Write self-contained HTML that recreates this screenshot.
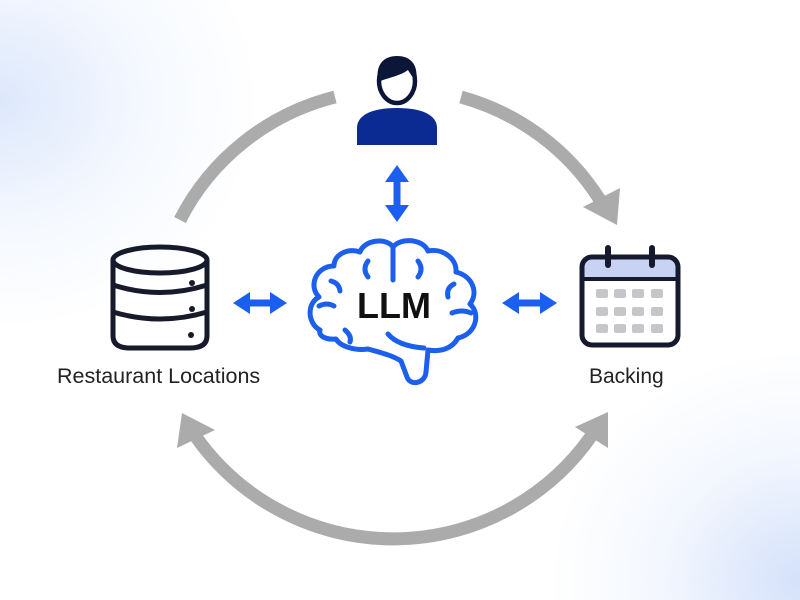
<!DOCTYPE html>
<html>
<head>
<meta charset="utf-8">
<style>
  html, body { margin:0; padding:0; }
  body {
    width:800px; height:600px; overflow:hidden; position:relative;
    background:#ffffff;
  }
  .bg {
    position:absolute; left:0; top:0; width:800px; height:600px;
    background:
      radial-gradient(ellipse 260px 230px at 0px 100px, rgba(215,228,251,0.85), rgba(232,240,253,0.45) 55%, rgba(255,255,255,0) 100%),
      radial-gradient(ellipse 250px 230px at 800px 580px, rgba(208,222,250,0.9), rgba(228,237,252,0.45) 55%, rgba(255,255,255,0) 100%),
      #ffffff;
  }
  svg { position:absolute; left:0; top:0; }
  .lbl {
    position:absolute; font-family:"Liberation Sans", sans-serif;
    font-size:20px; color:#222; white-space:nowrap; line-height:1;
  }
</style>
</head>
<body>
<div class="bg"></div>
<svg width="800" height="600" viewBox="0 0 800 600" xmlns="http://www.w3.org/2000/svg">
  <!-- gray cycle arcs -->
  <g fill="none" stroke="#ababab" stroke-width="13">
    <path d="M 180 220 A 240 236 0 0 1 335 97"/>
    <path d="M 461 97 A 240 236 0 0 1 600 200"/>
    <path d="M 196 437 A 242 242 0 0 0 592 435"/>
  </g>
  <g fill="#ababab">
    <polygon points="583,207 620,188 617,225"/>
    <polygon points="182,413 177,448 215,430"/>
    <polygon points="608,412 575,427 608,448"/>
  </g>

  <!-- person -->
  <path d="M 357 145 L 357 128 C 357 115, 372 108, 397 108 C 422 108, 437 115, 437 128 L 437 145 Z" fill="#0b2a92"/>
  <ellipse cx="397" cy="81" rx="18" ry="22" fill="#ffffff" stroke="#0c1638" stroke-width="4.5"/>
  <path d="M 378 82 C 375 62, 386 56, 397 56 C 410 56, 419 64, 416 82 C 412 76, 409 72, 408 70 C 400 76, 390 77, 378 82 Z" fill="#0c1638"/>

  <!-- vertical blue arrow -->
  <g fill="#1a5ff0">
    <rect x="393.5" y="178" width="7" height="32"/>
    <polygon points="397,165 385,182 409,182"/>
    <polygon points="397,222 385,205 409,205"/>
  </g>

  <!-- horizontal arrows -->
  <g fill="#1a5ff0">
    <rect x="246" y="299.5" width="28" height="7"/>
    <polygon points="233,303 250,292 250,314"/>
    <polygon points="287,303 270,292 270,314"/>
    <rect x="515" y="299.5" width="28" height="7"/>
    <polygon points="502,303 519,292 519,314"/>
    <polygon points="557,303 540,292 540,314"/>
  </g>

  <!-- brain -->
  <g fill="none" stroke="#1c5fec" stroke-width="5" stroke-linecap="round" stroke-linejoin="round">
    <path d="M 320 330
             C 308 324, 306 304, 319 297
             C 308 286, 316 266, 334 266
             C 334 254, 348 248, 360 252
             C 364 240, 386 237, 393 247
             C 401 237, 423 239, 428 251
             C 442 248, 457 258, 456 272
             C 472 276, 479 292, 470 304
             C 481 314, 476 334, 458 338
             C 452 349, 440 352, 428 350
             L 426 372
             C 425 384, 410 386, 407 377
             L 401 361
             C 392 355, 378 352, 368 349
             C 354 351, 340 346, 336 339
             C 326 340, 318 336, 320 330 Z"/>
    <path d="M 393 247 L 393 280"/>
    <path d="M 368 261 Q 362 269 368 277"/>
    <path d="M 418 261 Q 424 269 418 277"/>
    <path d="M 331 281 Q 339 283 340 291"/>
    <path d="M 319 306 Q 327 302 334 306"/>
    <path d="M 454 284 Q 446 288 448 297"/>
    <path d="M 452 313 Q 462 309 471 313"/>
    <path d="M 388 334 Q 398 346 424 348"/>
    <path d="M 345 330 Q 352 336 350 342"/>
  </g>
  <text x="394" y="318" text-anchor="middle" font-family="Liberation Sans, sans-serif" font-weight="bold" font-size="36" fill="#111">LLM</text>

  <!-- database -->
  <g fill="none" stroke="#161a2a" stroke-width="5">
    <ellipse cx="160" cy="260" rx="47" ry="13"/>
    <path d="M 113 260 L 113 336 Q 113 348 130 348 L 190 348 Q 207 348 207 336 L 207 260"/>
    <path d="M 113 285 Q 160 300 207 285"/>
    <path d="M 113 312 Q 160 326 207 312"/>
  </g>
  <g fill="#161a2a">
    <circle cx="192" cy="283" r="3"/>
    <circle cx="192" cy="309" r="3"/>
    <circle cx="191" cy="335" r="3"/>
  </g>

  <!-- calendar -->
  <path d="M 592 257 L 668 257 Q 678 257 678 267 L 678 279 L 582 279 L 582 267 Q 582 257 592 257 Z" fill="#c8d2f2"/>
  <rect x="582" y="257" width="96" height="88" rx="10" ry="10" fill="none" stroke="#161a2e" stroke-width="5"/>
  <line x1="582" y1="279" x2="678" y2="279" stroke="#161a2e" stroke-width="4"/>
  <g stroke="#161a2e" stroke-width="6" stroke-linecap="round">
    <line x1="608" y1="248" x2="608" y2="265"/>
    <line x1="652" y1="248" x2="652" y2="265"/>
  </g>
  <g fill="#c6c6ca">
    <rect x="596" y="289" width="12" height="9" rx="2"/>
    <rect x="614" y="289" width="12" height="9" rx="2"/>
    <rect x="632" y="289" width="12" height="9" rx="2"/>
    <rect x="651" y="289" width="12" height="9" rx="2"/>
    <rect x="596" y="307" width="12" height="9" rx="2"/>
    <rect x="614" y="307" width="12" height="9" rx="2"/>
    <rect x="632" y="307" width="12" height="9" rx="2"/>
    <rect x="651" y="307" width="12" height="9" rx="2"/>
    <rect x="596" y="324" width="12" height="9" rx="2"/>
    <rect x="614" y="324" width="12" height="9" rx="2"/>
    <rect x="632" y="324" width="12" height="9" rx="2"/>
    <rect x="651" y="324" width="12" height="9" rx="2"/>
  </g>
</svg>
<div class="lbl" style="left:57px; top:366px; font-size:21.5px;">Restaurant Locations</div>
<div class="lbl" style="left:589px; top:366px; font-size:21px;">Backing</div>
</body>
</html>
